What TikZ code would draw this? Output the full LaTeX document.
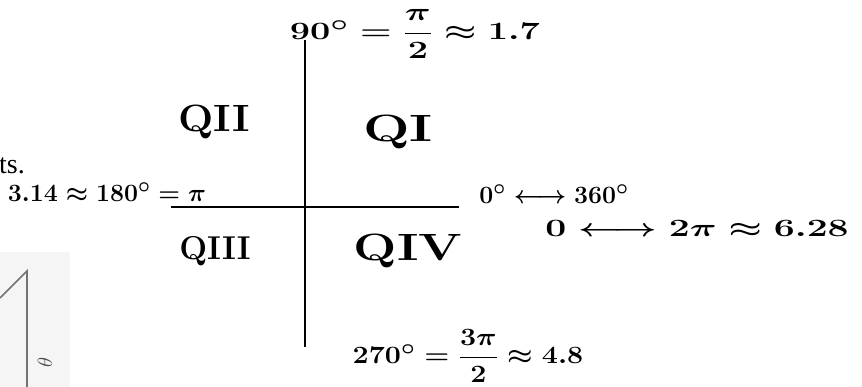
\documentclass[tikz,border=0pt]{standalone}
\usepackage{amsmath}
\usepackage{fontspec}
\newfontfamily\printfont{Liberation Serif}
\begin{document}
\begin{tikzpicture}[x=1pt,y=-1pt,
  hand/.style={inner sep=0pt,font=\fontsize{32}{36}\selectfont\bfseries\boldmath},
  quad/.style={hand,font=\fontsize{38}{40}\selectfont\bfseries},
  axis/.style={line width=1.3pt},
  scan/.style={draw=black!55,line width=1.6pt}]
  \useasboundingbox (0,0) rectangle (862,387);
  % scanned fragment, bottom left
  \fill[black!4] (0,252) rectangle (70,387);
  \coordinate (S1) at (0,298);
  \coordinate (S2) at (27,271);
  \coordinate (S3) at (27,387);
  \draw[scan] (S1)--(S2)--(S3);
  \node[rotate=90,text=black!70,font=\printfont\fontsize{22}{24}\selectfont\itshape] (th) at (45,362) {$\theta$};
  \node[anchor=west,inner sep=0pt,font=\printfont\fontsize{28}{30}\selectfont] (ts) at (-1,166) {ts.};
  % axes
  \coordinate (T) at (305,40);
  \coordinate (B) at (305,347);
  \coordinate (L) at (171,207);
  \coordinate (R) at (459,207);
  \draw[axis] (T)--(B);
  \draw[axis] (L)--(R);
  % quadrants
  \node[quad,xscale=1.45] (q1) at (398,132) {QI};
  \node[quad,xscale=1.1] (q2) at (214,122) {QII};
  \node[quad,font=\fontsize{33}{36}\selectfont\bfseries] (q3) at (215,251) {QIII};
  \node[quad,xscale=1.35] (q4) at (408,251) {QIV};
  % angle labels
  \node[hand,xscale=1.45] (n90) at (415,34) {$90^\circ=\dfrac{\pi}{2}\approx1.7$};
  \node[hand,xscale=1.15] (n270) at (468,356) {$270^\circ=\dfrac{3\pi}{2}\approx4.8$};
  \node[hand] (n180) at (107,192) {$3.14\approx180^\circ=\pi$};
  \node[hand] (n0) at (554,194) {$0^\circ\longleftrightarrow360^\circ$};
  \node[hand,xscale=1.5] (n0r) at (697,229) {$0\longleftrightarrow2\pi\approx6.28$};
\end{tikzpicture}
\end{document}
